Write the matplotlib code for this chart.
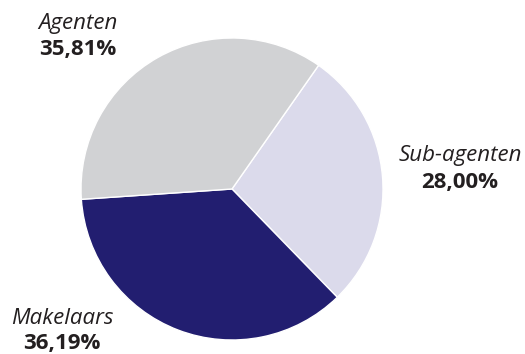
import matplotlib
matplotlib.use("Agg")
import matplotlib.pyplot as plt

# Verdeling per distributiekanaal
LABELS = ["Sub-agenten", "Makelaars", "Agenten"]
SHARES = [28.00, 36.19, 35.81]
COLORS = ["#dbdaeb", "#221e70", "#d1d2d4"]

W, H = 525, 354
plt.rcParams["font.family"] = ["Open Sans", "DejaVu Sans"]

fig = plt.figure(figsize=(W / 100, H / 100), dpi=100)
ax = fig.add_axes([0, 0, 1, 1])

ax.pie(SHARES, colors=COLORS, startangle=55, counterclock=False,
       center=(232, H - 189), radius=151, frame=True,
       wedgeprops=dict(edgecolor="white", linewidth=1.0))
ax.set_xlim(0, W)
ax.set_ylim(0, H)
ax.set_aspect("equal")
ax.axis("off")

# label positions (pixels from top-left): name baseline, value baseline
label_pos = {
    "Agenten":     (78, 28.5, 55),
    "Sub-agenten": (460, 161.5, 188),
    "Makelaars":   (62, 324, 349.5),
}
for name, share in zip(LABELS, SHARES):
    x, y_name, y_val = label_pos[name]
    ax.text(x, H - y_name, name, fontsize=16, fontstyle="italic",
            color="#231f20", ha="center", va="baseline")
    value = f"{share:.2f}%".replace(".", ",")
    ax.text(x, H - y_val, value, fontsize=16, fontweight="bold",
            color="#231f20", ha="center", va="baseline")

fig.savefig("out.png", dpi=100)
